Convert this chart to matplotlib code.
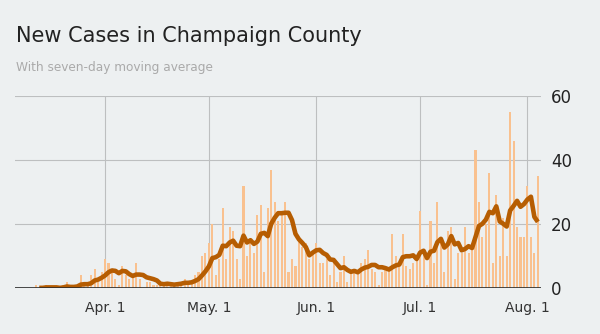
import matplotlib
matplotlib.use("Agg")
import matplotlib.pyplot as plt
import pandas as pd

# daily new cases, one list per month (Mar 7 .. Aug 4)
cases_mar = [0, 0, 0, 0, 0, 1, 0, 0, 1, 0, 0, 0, 0, 1, 2, 0, 0, 1, 4, 1, 1, 4, 6, 2, 5]
cases_apr = [9, 8, 5, 3, 1, 7, 4, 3, 4, 8, 3, 0, 2, 2, 1, 1, 1, 2, 1, 1,
             1, 2, 2, 3, 2, 2, 4, 5, 10, 11]
cases_may = [14, 20, 4, 9, 25, 9, 19, 18, 9, 3, 32, 10, 14, 11, 23, 26, 5, 25, 37, 27,
             21, 23, 27, 5, 9, 7, 15, 13, 14, 9, 11]
cases_jun = [14, 8, 8, 9, 4, 8, 2, 5, 10, 2, 5, 6, 5, 8, 9, 12, 6, 5, 1, 5,
             6, 6, 17, 10, 7, 17, 7, 6, 8, 9]
cases_jul = [24, 11, 1, 21, 8, 27, 16, 5, 18, 19, 3, 11, 11, 19, 11, 14, 43, 27, 16, 20,
             36, 8, 29, 10, 22, 10, 55, 46, 19, 16, 16]
cases_aug = [32, 16, 11, 35]

start_date = "2020-03-07"
tick_dates = ["2020-04-01", "2020-05-01", "2020-06-01", "2020-07-01", "2020-08-01"]
tick_labels = ["Apr. 1", "May. 1", "Jun. 1", "Jul. 1", "Aug. 1"]
y_ticks = [0, 20, 40, 60]

BG = "#edf0f1"
BAR = "#f9c18f"
LINE = "#b65d02"
GRID = "#bdbfc0"

cases = cases_mar + cases_apr + cases_may + cases_jun + cases_jul + cases_aug
days = pd.date_range(start_date, periods=len(cases), freq="D")
avg = pd.Series(cases, index=days).rolling(7).mean()  # trailing 7-day mean

W, H = 600, 334
fig = plt.figure(figsize=(W / 100, H / 100), dpi=100, facecolor=BG)
ax = fig.add_axes([15 / W, (H - 288.3) / H, (541.3 - 15) / W, (288.3 - 96) / H])
ax.set_facecolor(BG)

ax.bar(days, cases, width=0.6, color=BAR, zorder=2)
ax.plot(avg.index, avg.values, color=LINE, lw=3.3, zorder=3,
        solid_capstyle="butt", solid_joinstyle="round")
ax.axhline(0, color="#2b2b2b", lw=1.2, zorder=4)

ax.set_xlim(pd.Timestamp("2020-03-06"), pd.Timestamp("2020-08-05"))
ax.set_ylim(0, 60)
ax.set_yticks(y_ticks)
ax.yaxis.tick_right()
ax.set_xticks(pd.to_datetime(tick_dates))
ax.set_xticklabels(tick_labels)
ax.tick_params(axis="x", length=0, pad=9, labelsize=10, labelcolor="#333333")
ax.tick_params(axis="y", length=0, pad=7, labelsize=12, labelcolor="#222222")
ax.grid(color=GRID, lw=0.8, zorder=0)
ax.set_axisbelow(True)
for s in ax.spines.values():
    s.set_visible(False)

fig.text(16 / W, (H - 41.7) / H, "New Cases in Champaign County",
         fontsize=15, color="#222222", va="baseline")
fig.text(16 / W, (H - 71) / H, "With seven-day moving average",
         fontsize=8.7, color="#aaaaaa", va="baseline")

fig.savefig("out.png", dpi=100, facecolor=BG)
plt.close(fig)
